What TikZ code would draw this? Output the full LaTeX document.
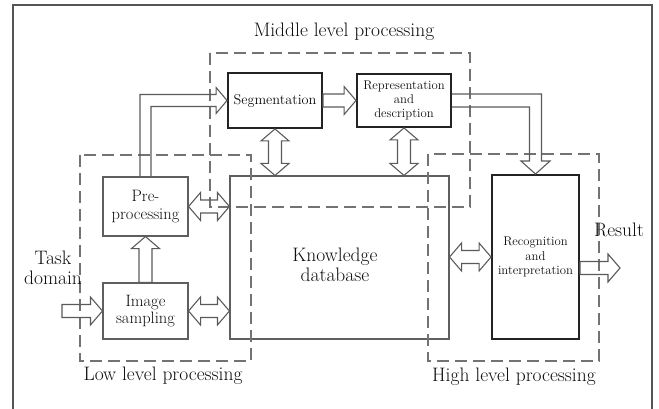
\documentclass[tikz,border=0pt]{standalone}
\usepackage{fontspec}
\usetikzlibrary{calc}
\definecolor{txt}{RGB}{15,15,15}
\definecolor{thinc}{RGB}{95,95,95}
\definecolor{thickc}{RGB}{35,35,35}
\definecolor{dashc}{RGB}{115,115,115}
\definecolor{arrc}{RGB}{90,90,90}
\definecolor{frmc}{RGB}{85,85,85}
\def\ArrS{6.5pt}
\def\ArrH{14pt}
\def\ArrL{12pt}
% horizontal single arrow, tip at #2
\newcommand\hsingle[2]{\draw[blk] let \p1=(#1), \p2=(#2) in
  (\x1,{\y1+\ArrS}) -- ({\x2-\ArrL},{\y1+\ArrS}) -- ({\x2-\ArrL},{\y1+\ArrH}) -- (\x2,\y1)
  -- ({\x2-\ArrL},{\y1-\ArrH}) -- ({\x2-\ArrL},{\y1-\ArrS}) -- (\x1,{\y1-\ArrS}) -- cycle;}
% horizontal double arrow
\newcommand\hdouble[2]{\draw[blk] let \p1=(#1), \p2=(#2) in
  (\x1,\y1) -- ({\x1+\ArrL},{\y1+\ArrH}) -- ({\x1+\ArrL},{\y1+\ArrS}) -- ({\x2-\ArrL},{\y1+\ArrS})
  -- ({\x2-\ArrL},{\y1+\ArrH}) -- (\x2,\y1) -- ({\x2-\ArrL},{\y1-\ArrH}) -- ({\x2-\ArrL},{\y1-\ArrS})
  -- ({\x1+\ArrL},{\y1-\ArrS}) -- ({\x1+\ArrL},{\y1-\ArrH}) -- cycle;}
% vertical single arrow upwards, tail #1 (bottom), tip #2 (top)
\newcommand\vsingle[2]{\draw[blk] let \p1=(#1), \p2=(#2) in
  ({\x1+\ArrS},\y1) -- ({\x1+\ArrS},{\y2-\ArrL}) -- ({\x1+\ArrH},{\y2-\ArrL}) -- (\x1,\y2)
  -- ({\x1-\ArrH},{\y2-\ArrL}) -- ({\x1-\ArrS},{\y2-\ArrL}) -- ({\x1-\ArrS},\y1) -- cycle;}
% vertical double arrow, #1 top, #2 bottom
\newcommand\vdouble[2]{\draw[blk] let \p1=(#1), \p2=(#2) in
  (\x1,\y1) -- ({\x1+\ArrH},{\y1-\ArrL}) -- ({\x1+\ArrS},{\y1-\ArrL}) -- ({\x1+\ArrS},{\y2+\ArrL})
  -- ({\x1+\ArrH},{\y2+\ArrL}) -- (\x1,\y2) -- ({\x1-\ArrH},{\y2+\ArrL}) -- ({\x1-\ArrS},{\y2+\ArrL})
  -- ({\x1-\ArrS},{\y1-\ArrL}) -- ({\x1-\ArrH},{\y1-\ArrL}) -- cycle;}
\begin{document}
\begin{tikzpicture}[x=1pt,y=-1pt,
  thinbox/.style={draw=thinc,line width=1.1pt,inner sep=0pt,text=txt,align=center},
  thickbox/.style={draw=thickc,line width=1.9pt,inner sep=0pt,text=txt,align=center},
  dashbox/.style={draw=dashc,line width=1.2pt,dash pattern=on 12pt off 6pt},
  blk/.style={draw=arrc,line width=1.1pt,line join=miter},
  lbl/.style={text=txt,inner sep=0pt,align=center,font=\fontsize{19.5}{20}\selectfont},
  midfont/.style={font=\fontsize{16.5}{17.5}\selectfont},
  segfont/.style={font=\fontsize{14.3}{16}\selectfont},
  smallfont/.style={font=\fontsize{12.7}{14.3}\selectfont}]
\useasboundingbox (0,0) rectangle (659,409);
% frame
\draw[frmc,line width=2pt] (13,409) -- (13,5) -- (652,5) -- (652,409);

% boxes
\node[thickbox,segfont,minimum width=94pt,minimum height=55pt] (seg) at (275,100.5) {Segmentation};
\node[thickbox,smallfont,minimum width=94pt,minimum height=53pt] (rep) at (404,100.5) {Representation\\and\\description};
\node[thinbox,midfont,minimum width=85pt,minimum height=59pt] (pre) at (145.5,206.5) {Pre-\\processing};
\node[thinbox,midfont,minimum width=85pt,minimum height=56pt] (img) at (145.5,311) {Image\\sampling};
\node[thinbox,minimum width=219pt,minimum height=163pt] (kb) at (339.5,257.5) {};
\node[lbl,font=\fontsize{19.5}{20}\selectfont] (kbl) at (335,265) {Knowledge\\database};
\node[thickbox,smallfont,minimum width=87pt,minimum height=164pt] (rec) at (535.5,257) {Recognition\\and\\interpretation};

% dashed regions
\draw[dashbox] (80,155) rectangle (251,361);
\draw[dashbox] (210,53) rectangle (470,207);
\draw[dashbox] (428,154) rectangle (599,361);

% labels
\node[lbl] (midl) at (344,32) {Middle level processing};
\node[lbl] (lowl) at (163,376) {Low level processing};
\node[lbl] (highl) at (514,377) {High level processing};
\node[lbl] (task) at (53,268) {Task\\domain};
\node[lbl] (res) at (619,230) {Result};

\coordinate (tin) at (62,311);
\coordinate (rout) at (620,268);

% arrows
\hsingle{tin}{img.west}
\vsingle{img.north}{pre.south}
\hdouble{pre.east}{kb.west |- pre.east}
\hdouble{img.east}{kb.west |- img.east}
\hsingle{seg.east}{rep.west}
\vdouble{seg.south}{seg.south |- kb.north}
\vdouble{rep.south}{rep.south |- kb.north}
\hdouble{kb.east |- rec.west}{rec.west}
\hsingle{$(rec.east)+(0,11)$}{rout}
% pre-processing -> segmentation (bent)
\draw[blk] let \p1=(pre.north), \p2=(seg.west) in
  ({\x1-5.5pt},\y1) |- ({\x2-11pt},{\y2+6pt}) -- ({\x2-11pt},{\y2+13pt}) -- (\x2,\y2)
  -- ({\x2-11pt},{\y2-13pt}) -- ({\x2-11pt},{\y2-6pt}) -| ({\x1+5.5pt},\y1);
% representation -> recognition (bent)
\draw[blk] let \p1=(rep.east), \p2=(rec.north) in
  (\x1,{\y1+6.5pt}) -| ({\x2+6pt},{\y2+13pt}) -- ({\x2+14.5pt},{\y2+13pt}) -- (\x2,\y2)
  -- ({\x2-14.5pt},{\y2+13pt}) -- ({\x2-6pt},{\y2+13pt}) |- (\x1,{\y1-6.5pt});
\end{tikzpicture}
\end{document}
